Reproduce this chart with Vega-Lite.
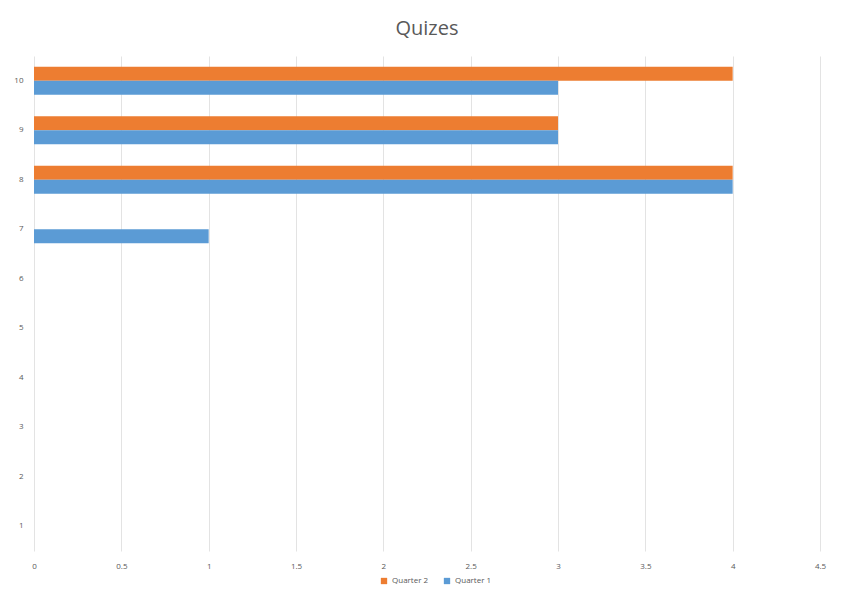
{
  "$schema": "https://vega.github.io/schema/vega-lite/v6.json",
  "width": 786,
  "height": 495,
  "autosize": {"type": "none"},
  "padding": {"left": 34, "top": 56, "right": 21, "bottom": 63},
  "background": "white",
  "title": {"text": "Quizes", "fontSize": 20, "font": "Open Sans", "fontWeight": "normal", "color": "#595959", "offset": 17},
  "data": {"values": [
    {"category": 10, "series": "Quarter 2", "value": 4},
    {"category": 10, "series": "Quarter 1", "value": 3},
    {"category": 9, "series": "Quarter 2", "value": 3},
    {"category": 9, "series": "Quarter 1", "value": 3},
    {"category": 8, "series": "Quarter 2", "value": 4},
    {"category": 8, "series": "Quarter 1", "value": 4},
    {"category": 7, "series": "Quarter 1", "value": 1}
  ]},
  "mark": {"type": "bar"},
  "encoding": {
    "y": {"field": "category", "type": "ordinal",
      "scale": {"domain": [10, 9, 8, 7, 6, 5, 4, 3, 2, 1], "paddingInner": 0.43, "paddingOuter": 0.215},
      "axis": {"title": null, "domain": false, "ticks": false, "labelPadding": 11, "labelFontSize": 8, "labelColor": "#595959", "labelFont": "Open Sans", "grid": false}},
    "yOffset": {"field": "series", "type": "nominal", "scale": {"domain": ["Quarter 2", "Quarter 1"]}},
    "x": {"field": "value", "type": "quantitative",
      "scale": {"domain": [0, 4.5], "nice": false},
      "axis": {"title": null, "values": [0, 0.5, 1, 1.5, 2, 2.5, 3, 3.5, 4, 4.5], "format": "~g", "domain": false, "ticks": false, "labelPadding": 11, "labelFontSize": 8, "labelColor": "#595959", "labelFont": "Open Sans", "grid": true, "gridColor": "#e3e3e3", "labelFlush": false}},
    "color": {"field": "series", "type": "nominal",
      "scale": {"domain": ["Quarter 2", "Quarter 1"], "range": ["#ED7D31", "#5B9BD5"]},
      "legend": {"title": null, "orient": "none", "legendX": 346, "legendY": 521, "direction": "horizontal", "symbolType": "square", "symbolSize": 40, "labelFontSize": 8, "labelColor": "#595959", "labelFont": "Open Sans", "columnPadding": 14, "symbolStrokeWidth": 0, "symbolOpacity": 1}}
  },
  "config": {"view": {"stroke": null}}
}
